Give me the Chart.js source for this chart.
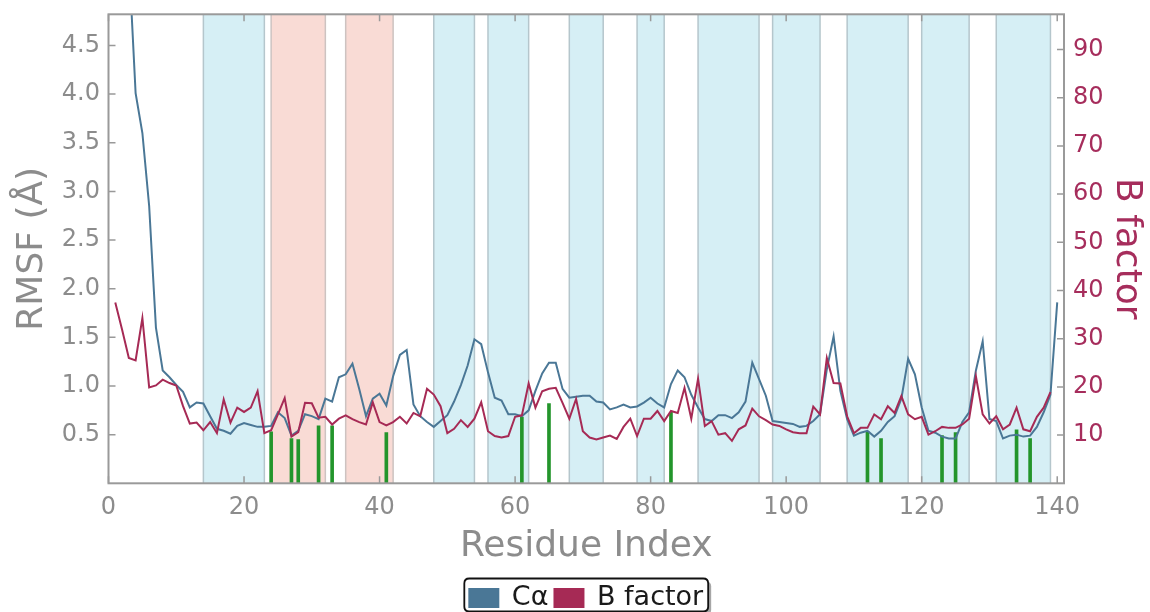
<!DOCTYPE html>
<html>
<head>
<meta charset="utf-8">
<script src="https://cdn.jsdelivr.net/npm/chart.js@4.4.0/dist/chart.umd.min.js"></script>
<style>
html,body{margin:0;padding:0;background:#ffffff;}
#wrap{width:1150px;height:612px;}
canvas{display:block;}
</style>
</head>
<body>
<div id="wrap"><canvas id="c" width="1150" height="612"></canvas></div>
<script>
// ---------------- DATA ----------------
const residues = [1,2,3,4,5,6,7,8,9,10,11,12,13,14,15,16,17,18,19,20,
  21,22,23,24,25,26,27,28,29,30,31,32,33,34,35,36,37,38,39,40,
  41,42,43,44,45,46,47,48,49,50,51,52,53,54,55,56,57,58,59,60,
  61,62,63,64,65,66,67,68,69,70,71,72,73,74,75,76,77,78,79,80,
  81,82,83,84,85,86,87,88,89,90,91,92,93,94,95,96,97,98,99,100,
  101,102,103,104,105,106,107,108,109,110,111,112,113,114,115,116,117,118,119,120,
  121,122,123,124,125,126,127,128,129,130,131,132,133,134,135,136,137,138,139,140];

const caRmsf = [6.5,6.0,5.4,4.01,3.60,2.85,1.60,1.16,1.09,1.01,
  0.94,0.78,0.83,0.82,0.69,0.56,0.54,0.51,0.59,0.62,
  0.60,0.58,0.58,0.59,0.73,0.67,0.49,0.54,0.71,0.69,
  0.66,0.87,0.84,1.09,1.12,1.23,0.97,0.69,0.87,0.92,
  0.80,1.10,1.32,1.37,0.81,0.69,0.63,0.58,0.64,0.70,
  0.84,1.01,1.21,1.48,1.43,1.14,0.88,0.85,0.71,0.71,
  0.69,0.75,0.95,1.13,1.24,1.24,0.97,0.88,0.89,0.90,
  0.90,0.84,0.83,0.76,0.78,0.81,0.78,0.79,0.83,0.88,
  0.82,0.78,1.02,1.16,1.09,0.91,0.78,0.66,0.64,0.70,
  0.70,0.67,0.73,0.84,1.24,1.07,0.90,0.64,0.63,0.62,
  0.61,0.58,0.59,0.64,0.71,1.17,1.51,0.95,0.66,0.49,
  0.52,0.54,0.48,0.54,0.63,0.69,0.87,1.28,1.12,0.78,
  0.54,0.52,0.48,0.46,0.46,0.63,0.73,1.16,1.46,0.66,
  0.64,0.46,0.49,0.50,0.48,0.49,0.58,0.73,0.91,1.86];

const bFactor = [37.5,31.9,26.0,25.5,34.3,19.9,20.3,21.5,20.8,20.3,
  16.0,12.4,12.6,11.0,12.7,10.4,17.4,12.6,15.7,14.8,
  15.7,19.1,10.4,11.0,14.3,17.7,9.7,10.6,16.7,16.6,
  13.6,13.8,12.2,13.4,14.1,13.3,12.7,12.2,16.8,12.7,
  12.0,12.7,13.8,12.4,14.6,13.9,19.6,18.4,16.0,10.4,
  11.3,13.1,11.7,13.4,16.8,10.8,9.8,9.5,9.8,13.8,
  14.1,20.7,15.7,19.1,19.6,19.8,16.7,13.4,17.5,10.8,
  9.5,9.1,9.5,9.9,9.2,11.7,13.4,9.8,13.4,13.4,
  15.0,12.9,15.0,14.6,19.8,13.4,21.7,11.9,12.9,10.1,
  10.4,8.8,11.2,12.0,15.5,13.9,13.1,12.2,11.9,11.2,
  10.6,10.4,10.4,15.9,14.3,26.0,20.8,20.7,13.9,10.4,
  11.5,11.5,14.3,13.3,16.0,14.6,18.1,14.3,13.3,13.8,
  10.1,10.8,11.7,11.5,11.5,12.2,13.4,22.2,14.3,12.4,
  13.9,11.2,12.2,15.7,11.2,10.8,13.8,15.7,18.9];

const contactResidues = [24,27,28,31,33,41,61,65,83,112,114,123,125,134,136];
const contactHeights  = [0.53,0.46,0.45,0.59,0.59,0.52,0.68,0.82,0.73,0.535,0.46,0.49,0.52,0.55,0.46];

const helixStarts = [14,48,56,68,78,87,98,109,120,131];
const helixEnds   = [23,54,62,73,82,96,105,118,127,139];
const sheetStarts = [24,35];
const sheetEnds   = [32,42];

const xTicks    = [0,20,40,60,80,100,120,140];
const rmsfTicks = [0.5,1.0,1.5,2.0,2.5,3.0,3.5,4.0,4.5];
const bTicks    = [10,20,30,40,50,60,70,80,90];

// ---------------- STYLE ----------------
const FONT = "'DejaVu Sans', 'Liberation Sans', sans-serif";
const GREY = '#8c8c8c';
const CRIMSON = '#a62d5c';
const CA_COLOR = '#4a7796';
const BF_COLOR = '#a62a55';
const GREEN = '#23952b';
const LEGEND_ROW_TOP = 584.5;

const spanPlugin = {
  id: 'spans',
  beforeDatasetsDraw(chart) {
    const {ctx, chartArea: a, scales: {x}} = chart;
    ctx.save();
    ctx.beginPath();
    ctx.rect(a.left, a.top, a.right - a.left, a.bottom - a.top);
    ctx.clip();
    const draw = (starts, ends, fill, edge) => {
      starts.forEach((s, i) => {
        const x0 = x.getPixelForValue(s), x1 = x.getPixelForValue(ends[i]);
        ctx.fillStyle = fill;
        ctx.fillRect(x0, a.top, x1 - x0, a.bottom - a.top);
        ctx.strokeStyle = edge;
        ctx.lineWidth = 1.5;
        ctx.beginPath();
        ctx.moveTo(x0, a.top); ctx.lineTo(x0, a.bottom);
        ctx.moveTo(x1, a.top); ctx.lineTo(x1, a.bottom);
        ctx.stroke();
      });
    };
    draw(helixStarts, helixEnds, '#d6eff5', '#b5c6cc');
    draw(sheetStarts, sheetEnds, '#f9dbd5', '#cdc3c1');
    ctx.restore();
  }
};

const framePlugin = {
  id: 'frame',
  afterDatasetsDraw(chart) {
    const {ctx, chartArea: a, scales: {x, y, y2}} = chart;
    const L = 7;
    ctx.save();
    ctx.strokeStyle = '#999999';
    ctx.lineWidth = 1.5;
    ctx.beginPath();
    xTicks.forEach(v => {
      const px = x.getPixelForValue(v);
      ctx.moveTo(px, a.bottom); ctx.lineTo(px, a.bottom - L);
      ctx.moveTo(px, a.top); ctx.lineTo(px, a.top + L);
    });
    rmsfTicks.forEach(v => {
      const py = y.getPixelForValue(v);
      ctx.moveTo(a.left, py); ctx.lineTo(a.left + L, py);
    });
    bTicks.forEach(v => {
      const py = y2.getPixelForValue(v);
      ctx.moveTo(a.right, py); ctx.lineTo(a.right - L, py);
    });
    ctx.stroke();
    ctx.lineWidth = 2;
    ctx.strokeStyle = '#9a9a9a';
    ctx.strokeRect(a.left, a.top, a.right - a.left, a.bottom - a.top);
    ctx.restore();
  }
};

function roundRectPath(ctx, x, y, w, h, r) {
  ctx.beginPath();
  ctx.moveTo(x + r, y);
  ctx.lineTo(x + w - r, y);
  ctx.quadraticCurveTo(x + w, y, x + w, y + r);
  ctx.lineTo(x + w, y + h - r);
  ctx.quadraticCurveTo(x + w, y + h, x + w - r, y + h);
  ctx.lineTo(x + r, y + h);
  ctx.quadraticCurveTo(x, y + h, x, y + h - r);
  ctx.lineTo(x, y + r);
  ctx.quadraticCurveTo(x, y, x + r, y);
  ctx.closePath();
}

const legendPlacer = {
  id: 'legendPlacer',
  afterLayout(chart) {
    const lg = chart.legend;
    if (!lg) return;
    const a = chart.chartArea;
    const cx = (a.left + a.right) / 2;
    const pad = lg.options.labels.padding;
    lg.left = cx - 575; lg.right = cx + 575; lg.width = 1150;
    lg.top = LEGEND_ROW_TOP - pad; lg.height = 60; lg.bottom = lg.top + 60;
  },
  beforeDraw(chart) {
    const lg = chart.legend;
    if (!lg || !lg.lineWidths) return;
    const ctx = chart.ctx;
    const pad = lg.options.labels.padding;
    const fs = lg.options.labels.font.size;
    const cx = (lg.left + lg.right) / 2;
    const w = lg.lineWidths[0] - pad;
    const t = lg.top + pad;
    const fx = cx - w / 2 - 5, fw = w + 10, fy = t - 6, fh = fs + 6;
    ctx.save();
    ctx.fillStyle = 'rgba(0,0,0,0.35)';
    roundRectPath(ctx, fx + 3, fy + 3, fw, fh, 5);
    ctx.fill();
    ctx.fillStyle = '#ffffff';
    roundRectPath(ctx, fx, fy, fw, fh, 5);
    ctx.fill();
    ctx.strokeStyle = '#111111';
    ctx.lineWidth = 1.8;
    ctx.stroke();
    ctx.restore();
  }
};

const noPad = s => { s.paddingTop = 0; s.paddingBottom = 0; s.paddingLeft = 0; s.paddingRight = 0; };

new Chart(document.getElementById('c'), {
  type: 'line',
  data: {
    datasets: [
      {
        label: 'Cα',
        data: residues.map((r, i) => ({x: r, y: caRmsf[i]})),
        yAxisID: 'y',
        borderColor: CA_COLOR,
        backgroundColor: CA_COLOR,
        borderWidth: 2,
        pointRadius: 0,
        tension: 0,
        fill: false,
        order: 2
      },
      {
        label: 'B factor',
        data: residues.slice(0, bFactor.length).map((r, i) => ({x: r, y: bFactor[i]})),
        yAxisID: 'y2',
        borderColor: BF_COLOR,
        backgroundColor: BF_COLOR,
        borderWidth: 2,
        pointRadius: 0,
        tension: 0,
        fill: false,
        order: 1
      },
      {
        type: 'bar',
        label: 'contacts',
        data: contactResidues.map((r, i) => ({x: r, y: contactHeights[i]})),
        yAxisID: 'y',
        backgroundColor: GREEN,
        borderWidth: 0,
        barThickness: 3,
        order: 3
      }
    ]
  },
  options: {
    responsive: false,
    animation: false,
    devicePixelRatio: 1,
    layout: {padding: {top: 14.3, left: 0, right: 0, bottom: 0}},
    plugins: {
      legend: {
        display: true,
        position: 'bottom',
        align: 'center',
        maxHeight: 2,
        labels: {
          boxWidth: 29,
          boxHeight: 18,
          padding: 6,
          color: '#1a1a1a',
          font: {family: FONT, size: 27},
          filter: (item) => item.datasetIndex < 2,
          sort: (a, b) => a.datasetIndex - b.datasetIndex
        }
      },
      tooltip: {enabled: false}
    },
    scales: {
      x: {
        type: 'linear',
        position: 'bottom',
        min: 0,
        max: 141,
        offset: false,
        grid: {display: false, drawTicks: false, offset: false},
        border: {display: false},
        afterBuildTicks: s => { s.ticks = xTicks.map(v => ({value: v})); },
        afterFit: s => { noPad(s); s.height = 612 - 483.3 - (s.chart.legend ? s.chart.legend.height : 0); },
        ticks: {
          color: GREY, font: {family: FONT, size: 24}, padding: 10,
          maxRotation: 0, autoSkip: false, callback: v => String(v)
        },
        title: {
          display: true, text: 'Residue Index', color: GREY,
          font: {family: FONT, size: 36}, padding: {top: 0, bottom: 42}
        }
      },
      y: {
        type: 'linear',
        position: 'left',
        min: 0,
        max: 4.82,
        grid: {display: false, drawTicks: false},
        border: {display: false},
        afterBuildTicks: s => { s.ticks = rmsfTicks.map(v => ({value: v})); },
        afterFit: s => { noPad(s); s.width = 108.5; },
        ticks: {
          color: GREY, font: {family: FONT, size: 24}, padding: 8.5,
          callback: v => Number(v).toFixed(1)
        },
        title: {
          display: true, text: 'RMSF (Å)', color: GREY,
          font: {family: FONT, size: 36}, padding: {top: 11, bottom: 0}
        }
      },
      y2: {
        type: 'linear',
        position: 'right',
        min: 0,
        max: 97.3,
        grid: {display: false, drawTicks: false},
        border: {display: false},
        afterBuildTicks: s => { s.ticks = bTicks.map(v => ({value: v})); },
        afterFit: s => { noPad(s); s.width = 86; },
        ticks: {
          color: CRIMSON, font: {family: FONT, size: 24}, padding: 9,
          callback: v => String(v)
        },
        title: {
          display: true, text: 'B factor', color: CRIMSON,
          font: {family: FONT, size: 36}, padding: {top: 2, bottom: 0}
        }
      }
    }
  },
  plugins: [spanPlugin, framePlugin, legendPlacer]
});
</script>
</body>
</html>
